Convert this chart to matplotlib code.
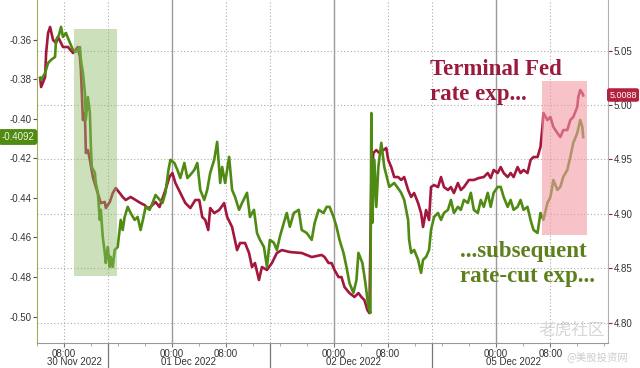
import matplotlib
matplotlib.use("Agg")
import matplotlib.pyplot as plt
from matplotlib.patches import Rectangle

# x = hours since 30 Nov 00:00, weekend gap removed (05 Dec 00:00 -> 72)
cut_t = [4.47, 4.61, 5.20, 5.64, 6.09, 6.67, 6.82, 7.26, 7.56, 7.85, 8.29, 8.88, 9.33, 9.77, 10.36,
         10.50, 10.80, 11.09, 11.24, 11.54, 11.83, 11.98, 12.12, 12.57, 12.71, 13.01, 13.30, 13.45,
         13.74, 14.04, 14.19, 14.48, 14.78, 14.92, 15.22, 15.51, 15.95, 16.40, 16.69, 16.98, 17.43,
         17.87, 18.46, 18.90, 19.34, 19.78, 20.08, 20.67, 21.11, 21.55, 22.58, 23.02, 23.47, 23.76,
         24.35, 24.79, 25.23, 25.82, 26.27, 26.71, 27.30, 27.74, 28.18, 28.77, 29.21, 29.65, 30.24,
         30.68, 31.13, 31.42, 31.86, 32.45, 32.89, 33.33, 33.92, 34.37, 35.10, 35.54, 36.13, 36.58,
         37.02, 37.61, 38.05, 38.49, 39.08, 39.52, 39.96, 40.55, 40.99, 41.44, 42.03, 42.76, 43.20,
         43.94, 44.68, 45.12, 45.71, 46.44, 46.89, 47.33, 47.92, 48.36, 48.80, 49.39, 49.83, 50.27,
         50.86, 51.31, 51.60, 52.19, 52.63, 53.07, 53.37, 53.51, 53.66, 53.96, 54.25, 54.55, 54.99,
         55.43, 56.17, 56.90, 57.64, 57.93, 58.38, 58.96, 59.11, 59.41, 59.85, 60.44, 60.88, 61.17,
         61.62, 62.06, 62.35, 62.80, 63.39, 63.83, 64.27, 64.86, 65.30, 65.74, 66.33, 66.77, 67.22,
         67.81, 68.25, 68.69, 69.28, 69.72, 70.16, 70.75, 71.19, 71.63, 72.22, 72.67, 73.11, 73.70,
         74.14, 74.58, 75.17, 75.61, 76.05, 76.64, 77.09, 77.53, 78.12, 78.56, 79.00, 79.59, 80.03,
         80.47, 81.06, 81.50, 81.94, 82.53, 82.98, 83.42, 84.01, 84.45, 84.75, 84.89]
cut_exp = [-0.3792, -0.3803, -0.3767, -0.3717, -0.3701, -0.3686, -0.3600, -0.3575, -0.3534, -0.3585,
           -0.3565, -0.3615, -0.3651, -0.3661, -0.3636, -0.3701, -0.3767, -0.3868, -0.4005, -0.3889,
           -0.3970, -0.4142, -0.4243, -0.4273, -0.4324, -0.4374, -0.4511, -0.4460, -0.4597, -0.4678,
           -0.4729, -0.4648, -0.4749, -0.4698, -0.4749, -0.4663, -0.4648, -0.4511, -0.4562, -0.4496,
           -0.4445, -0.4476, -0.4511, -0.4496, -0.4562, -0.4496, -0.4445, -0.4460, -0.4425, -0.4385,
           -0.4425, -0.4374, -0.4258, -0.4207, -0.4223, -0.4258, -0.4299, -0.4223, -0.4299, -0.4283,
           -0.4258, -0.4223, -0.4359, -0.4410, -0.4359, -0.4273, -0.4207, -0.4116, -0.4324, -0.4243,
           -0.4324, -0.4192, -0.4359, -0.4395, -0.4460, -0.4425, -0.4374, -0.4496, -0.4460, -0.4577,
           -0.4612, -0.4648, -0.4749, -0.4612, -0.4627, -0.4663, -0.4597, -0.4526, -0.4476, -0.4546,
           -0.4476, -0.4460, -0.4562, -0.4577, -0.4612, -0.4526, -0.4460, -0.4476, -0.4445, -0.4445,
           -0.4496, -0.4546, -0.4612, -0.4678, -0.4749, -0.4830, -0.4880, -0.4815, -0.4678, -0.4729,
           -0.4830, -0.4951, -0.4982, -0.3970, -0.4526, -0.4207, -0.4445, -0.4243, -0.4121, -0.4243,
           -0.4344, -0.4324, -0.4359, -0.4374, -0.4410, -0.4511, -0.4612, -0.4678, -0.4663, -0.4713,
           -0.4779, -0.4713, -0.4698, -0.4663, -0.4562, -0.4496, -0.4476, -0.4511, -0.4476, -0.4460,
           -0.4410, -0.4476, -0.4445, -0.4460, -0.4410, -0.4425, -0.4374, -0.4460, -0.4476, -0.4410,
           -0.4445, -0.4374, -0.4445, -0.4374, -0.4344, -0.4344, -0.4395, -0.4445, -0.4410, -0.4460,
           -0.4445, -0.4410, -0.4460, -0.4445, -0.4511, -0.4562, -0.4577, -0.4476, -0.4511, -0.4425,
           -0.4395, -0.4309, -0.4359, -0.4344, -0.4293, -0.4258, -0.4192, -0.4121, -0.4071, -0.4005,
           -0.4040, -0.4092]

fed_t = [4.47, 4.61, 5.20, 5.35, 5.64, 5.94, 6.38, 6.82, 7.12, 7.85, 8.59, 9.33, 10.06, 10.36, 10.50,
         10.80, 11.09, 11.24, 11.54, 11.83, 12.27, 12.71, 13.30, 13.45, 14.04, 14.19, 14.78, 15.22,
         15.66, 16.25, 16.69, 17.13, 17.87, 18.61, 19.34, 19.93, 20.37, 20.81, 21.55, 22.14, 23.02,
         23.61, 24.05, 24.50, 25.23, 25.97, 26.71, 27.44, 28.03, 28.47, 28.92, 29.36, 29.65, 30.24,
         30.98, 31.71, 32.16, 32.89, 33.63, 34.07, 34.81, 35.40, 35.84, 36.28, 36.87, 37.31, 38.05,
         38.79, 39.52, 40.26, 41.44, 43.20, 44.68, 46.15, 46.59, 47.18, 47.62, 48.06, 48.65, 49.09,
         49.54, 50.27, 51.01, 51.60, 52.04, 52.48, 52.93, 53.22, 53.51, 53.81, 54.25, 54.69, 55.28,
         55.72, 56.02, 56.46, 56.90, 57.49, 57.93, 58.38, 58.96, 59.41, 59.85, 60.44, 60.88, 61.17,
         61.62, 62.06, 62.35, 62.80, 63.39, 63.83, 64.27, 64.86, 65.30, 65.74, 66.33, 66.77, 67.22,
         67.95, 68.69, 69.42, 70.16, 70.75, 71.19, 71.63, 72.22, 72.67, 73.11, 73.70, 74.14, 74.58,
         75.17, 75.61, 76.05, 76.64, 77.09, 77.53, 78.12, 78.56, 78.85, 79.00, 79.59, 80.03, 80.47,
         81.06, 81.50, 81.94, 82.53, 82.98, 83.42, 84.01, 84.16, 84.45, 84.75, 84.89]
fed_exp = [5.0248, 5.0165, 5.0257, 5.0478, 5.0662, 5.0717, 5.0597, 5.0570, 5.0625, 5.0533, 5.0533,
           5.0478, 5.0533, 5.0441, 5.0322, 4.9862, 4.9926, 4.9559, 4.9586, 4.9495, 4.9338, 4.9246,
           4.9127, 4.9099, 4.9109, 4.9053, 4.9109, 4.9191, 4.9237, 4.9191, 4.9155, 4.9127, 4.9155,
           4.9127, 4.9099, 4.9081, 4.9053, 4.9063, 4.9109, 4.9063, 4.9219, 4.9338, 4.9375, 4.9283,
           4.9191, 4.9099, 4.9053, 4.9127, 4.9127, 4.8971, 4.8943, 4.8851, 4.9053, 4.9007, 4.9035,
           4.9099, 4.8971, 4.8879, 4.8667, 4.8732, 4.8732, 4.8640, 4.8511, 4.8548, 4.8392, 4.8511,
           4.8484, 4.8548, 4.8640, 4.8667, 4.8649, 4.8640, 4.8603, 4.8622, 4.8603, 4.8548, 4.8548,
           4.8484, 4.8419, 4.8419, 4.8327, 4.8272, 4.8236, 4.8272, 4.8236, 4.8208, 4.8116, 4.8088,
           4.9283, 4.9559, 4.9586, 4.9559, 4.9586, 4.9605, 4.9495, 4.9430, 4.9338, 4.9338, 4.9311,
           4.9338, 4.9219, 4.9155, 4.9191, 4.9099, 4.9007, 4.8879, 4.9035, 4.8943, 4.9246, 4.9265,
           4.9246, 4.9338, 4.9246, 4.9219, 4.9246, 4.9191, 4.9283, 4.9219, 4.9246, 4.9311, 4.9311,
           4.9329, 4.9338, 4.9375, 4.9329, 4.9403, 4.9375, 4.9430, 4.9375, 4.9338, 4.9375, 4.9338,
           4.9430, 4.9375, 4.9403, 4.9375, 4.9495, 4.9522, 4.9522, 4.9614, 4.9798, 4.9926, 4.9862,
           4.9890, 4.9798, 4.9743, 4.9706, 4.9770, 4.9770, 4.9862, 4.9890, 4.9982, 5.0074, 5.0138,
           5.0110, 5.0088]

time_ticks = [8, 24, 32, 48, 56, 72, 80]
time_labels = ["08:00", "00:00", "08:00", "00:00", "08:00", "00:00", "08:00"]
day_breaks = [14.5, 38.5, 62.5]
day_labels = ["30 Nov 2022", "01 Dec 2022", "02 Dec 2022", "05 Dec 2022"]
day_label_x = [9.5, 26.5, 50.9, 74.5]
left_ticks = [-0.36, -0.38, -0.40, -0.42, -0.44, -0.46, -0.48, -0.50]
right_ticks = [5.05, 5.00, 4.95, 4.90, 4.85, 4.80]

# shaded boxes (x range in hours, y range on the left axis)
green_box = (9.47, 15.81, -0.4794, -0.3545)
pink_box = (78.85, 85.47, -0.4587, -0.3808)

RED = "#a3173c"
GREEN = "#4f8a12"

fig = plt.figure(figsize=(6.4, 3.68), dpi=100)
ax = fig.add_axes([37 / 640, 1 - 343 / 368, 571 / 640, 343 / 368])
ax2 = ax.twinx()
ax.set_zorder(ax2.get_zorder() + 1)
ax.patch.set_visible(False)

ax.set_xlim(4.47, 88.56)
ax.set_ylim(-0.5134, -0.3398)
ax2.set_ylim(4.7813, 5.0965)

# grid
for y in right_ticks:
    ax2.axhline(y, color="#aaaaaa", lw=0.8, ls=(0, (1, 2)), zorder=0)
for x in [8, 32, 56, 80] + day_breaks:
    ax2.axvline(x, color="#aaaaaa", lw=0.8, ls=(0, (1, 2)), zorder=0)
for x in [24, 48, 72]:
    ax2.axvline(x, color="#9a9a9a", lw=1.0, zorder=0)

ax2.plot(fed_t, fed_exp, color=RED, lw=1.9, zorder=2)
ax.plot(cut_t, cut_exp, color=GREEN, lw=1.9, zorder=2)

x0, x1, y0, y1 = green_box
ax.add_patch(Rectangle((x0, y0), x1 - x0, y1 - y0, color="#8fbd68", alpha=0.45, lw=0, zorder=3))
x0, x1, y0, y1 = pink_box
ax.add_patch(Rectangle((x0, y0), x1 - x0, y1 - y0, color="#f49aa6", alpha=0.6, lw=0, zorder=3))

# axes styling
for a in (ax, ax2):
    a.spines["top"].set_visible(False)
ax.spines["left"].set_color("#a4ad55")
ax.spines["right"].set_visible(False)
ax2.spines["left"].set_visible(False)
ax2.spines["right"].set_color("#b0b0b0")
ax.spines["bottom"].set_color("#999999")
ax2.spines["bottom"].set_visible(False)

tick_font = dict(family="Liberation Sans", size=7)
ax.set_yticks(left_ticks)
ax.set_yticklabels(["%.2f" % v for v in left_ticks], **tick_font, color="#333333")
ax2.set_yticks(right_ticks)
ax2.set_yticklabels(["%.2f" % v for v in right_ticks], **tick_font, color="#333333")
ax.tick_params(axis="y", length=3, width=0.8, color="#555555", pad=1)
ax2.tick_params(axis="y", length=3, width=0.8, color="#8a2040", pad=1)

ax.set_xticks(time_ticks)
ax.set_xticklabels(time_labels, **tick_font, color="#333333")
ax.set_xticks([4, 12, 16, 20, 28, 36, 40, 44, 52, 60, 64, 68, 76, 84, 88], minor=True)
ax.tick_params(axis="x", which="major", length=3, color="#777777", pad=1)
ax.tick_params(axis="x", which="minor", length=2, color="#999999")

trans = ax.get_xaxis_transform()
for x in day_breaks:
    ax.plot([x, x], [0, -0.075], transform=trans, color="#777777", lw=0.9, clip_on=False)
for x, lab in zip(day_label_x, day_labels):
    ax.text(x, -0.042, lab, transform=trans, ha="center", va="top", **tick_font, color="#333333")

# last value tags
fig.text(18 / 640, 1 - 137 / 368, "-0.4092", ha="center", va="center", family="Liberation Sans",
         size=7, color="#eef5d8",
         bbox=dict(boxstyle="round,pad=0.3", fc=GREEN, ec="none"))
fig.text(623 / 640, 1 - 95 / 368, "5.0088", ha="center", va="center", family="Liberation Sans",
         size=6.5, color="#ffffff",
         bbox=dict(boxstyle="round,pad=0.25", fc="#b3213f", ec="none"))

# annotations
serif = dict(family="Liberation Serif", size=16.5, weight="bold")
fig.text(430 / 640, 1 - 75 / 368, "Terminal Fed", color="#9b1b3f", va="baseline", **serif)
fig.text(430 / 640, 1 - 100 / 368, "rate exp...", color="#9b1b3f", va="baseline", **serif)
fig.text(460 / 640, 1 - 257 / 368, "...subsequent", color="#5d7f1c", va="baseline", **serif)
fig.text(460 / 640, 1 - 282 / 368, "rate-cut exp...", color="#5d7f1c", va="baseline", **serif)

# watermarks
fig.text(538 / 640, 1 - 330 / 368, "老虎社区", family=["Noto Sans CJK SC", "DejaVu Sans"], size=12,
         color="#d6d6d6", va="center")
fig.text(566 / 640, 1 - 357 / 368, "@美股投资网", family=["Noto Sans CJK SC", "DejaVu Sans"], size=7.5,
         color="#cccccc", va="center")

fig.savefig("out.png", dpi=100)
